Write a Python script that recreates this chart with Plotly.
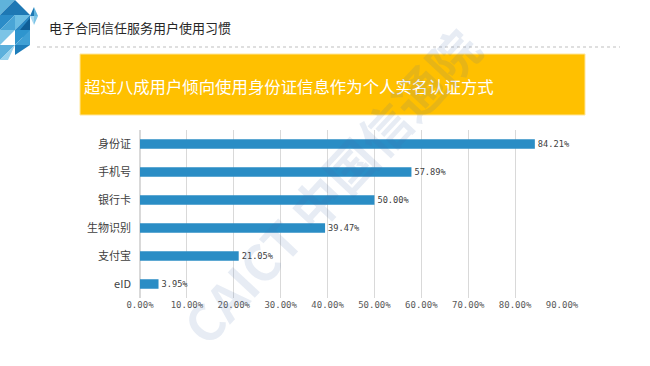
import plotly.graph_objects as go

categories = ["身份证", "手机号", "银行卡", "生物识别", "支付宝", "eID"]
values = [0.8421, 0.5789, 0.5000, 0.3947, 0.2105, 0.0395]
tick_vals = [0, 0.1, 0.2, 0.3, 0.4, 0.5, 0.6, 0.7, 0.8, 0.9]
tick_text = ["0.00%", "10.00%", "20.00%", "30.00%", "40.00%", "50.00%", "60.00%", "70.00%", "80.00%", "90.00%"]
title_text = "电子合同信任服务用户使用习惯"
banner_text = "超过八成用户倾向使用身份证信息作为个人实名认证方式"

W, H = 650, 366
L, R, T, B = 140, 562, 130, 298

fig = go.Figure()
fig.add_trace(go.Bar(
    x=values, y=categories, orientation="h",
    marker=dict(color="#2A8DC5", line=dict(width=0)),
    width=0.34,
    text=[f"{v*100:.2f}%" for v in values],
    textposition="outside",
    textfont=dict(family="DejaVu Sans Mono", size=10, color="#404040"),
    cliponaxis=False,
    hoverinfo="skip",
))

fig.update_layout(
    width=W, height=H,
    margin=dict(l=L, r=W - R, t=T, b=H - B, autoexpand=False),
    paper_bgcolor="white", plot_bgcolor="white",
    showlegend=False,
    xaxis=dict(range=[0, 0.9], tickvals=tick_vals, ticktext=tick_text,
               showgrid=True, gridcolor="#D9D9D9", gridwidth=1,
               zeroline=True, zerolinecolor="#D9D9D9", showline=False,
               tickfont=dict(family="DejaVu Sans Mono", size=9, color="#595959"),
               ticks="", fixedrange=True),
    yaxis=dict(categoryorder="array", categoryarray=categories[::-1],
               showgrid=False, showline=False, ticks="", ticklabelstandoff=8,
               tickfont=dict(family="Noto Sans CJK SC", size=11, color="#404040"),
               fixedrange=True),
    font=dict(family="Noto Sans CJK SC"),
)

def xd(x): return (x - L) / (R - L)
def yd(y): return (B - y) / (B - T)

shapes = []
shapes.append(dict(type="line", xref="x domain", yref="y domain",
                   x0=xd(37), x1=xd(620), y0=yd(47), y1=yd(47),
                   line=dict(color="#BFBFBF", width=1, dash="dot")))
shapes.append(dict(type="rect", xref="x domain", yref="y domain",
                   x0=xd(80), x1=xd(585), y0=yd(115), y1=yd(54),
                   fillcolor="#FFC000", line=dict(color="#FFE699", width=1), layer="below"))

def tri(points, color):
    path = "M " + " L ".join(f"{xd(x):.4f},{yd(y):.4f}" for x, y in points) + " Z"
    return dict(type="path", xref="x domain", yref="y domain", path=path,
                fillcolor=color, line=dict(width=0))

shapes += [
    tri([(0, 0), (15, 0), (0, 15)], "#5FB3DB"),
    tri([(15, 0), (30, 15), (0, 15)], "#1E78B4"),
    tri([(0, 15), (15, 15), (0, 30)], "#2B8CC8"),
    tri([(15, 15), (30, 15), (15, 30)], "#6BBDE3"),
    tri([(15, 15), (15, 30), (0, 30)], "#4AA5D6"),
    tri([(30, 15), (30, 45), (15, 30)], "#2A88C3"),
    tri([(30, 18), (30, 30), (20, 30)], "#0F5E97"),
    tri([(0, 30), (15, 30), (0, 45)], "#7CC4E6"),
    tri([(15, 30), (30, 30), (15, 45)], "#2E95CE"),
    tri([(15, 45), (30, 30), (30, 45)], "#3FA0D5"),
    tri([(0, 45), (15, 45), (0, 60)], "#5DB0DC"),
    tri([(15, 45), (30, 45), (15, 55)], "#1D7DBA"),
    tri([(0, 60), (15, 45), (8, 60)], "#9AD3EE"),
    tri([(34, 7), (30, 16), (34, 16)], "#1E78B4"),
    tri([(34, 7), (38, 16), (34, 16)], "#5FB3DB"),
    tri([(30, 16), (34, 25), (34, 16)], "#A8D8F0"),
    tri([(38, 16), (34, 25), (34, 16)], "#7CC4E6"),
]
fig.update_layout(shapes=shapes)

fig.add_annotation(xref="x domain", yref="y domain", x=xd(47), y=yd(27),
                   text=title_text, showarrow=False, xanchor="left", yanchor="middle",
                   font=dict(family="Noto Sans CJK SC", size=13, color="#262626"))
fig.add_annotation(xref="x domain", yref="y domain", x=xd(82), y=yd(86),
                   text=banner_text, showarrow=False, xanchor="left", yanchor="middle",
                   font=dict(family="Noto Sans CJK SC", size=16.4, color="white"))
fig.add_annotation(xref="x domain", yref="y domain", x=xd(330), y=yd(185),
                   text="<b>CAICT 中国信通院</b>", showarrow=False, textangle=-47,
                   xanchor="center", yanchor="middle",
                   font=dict(family="Noto Sans CJK SC", size=50, color="rgba(70,110,170,0.13)"))

fig.write_html("out.html", config={"displayModeBar": False, "staticPlot": True},
               post_script="document.body.style.margin='0';")
